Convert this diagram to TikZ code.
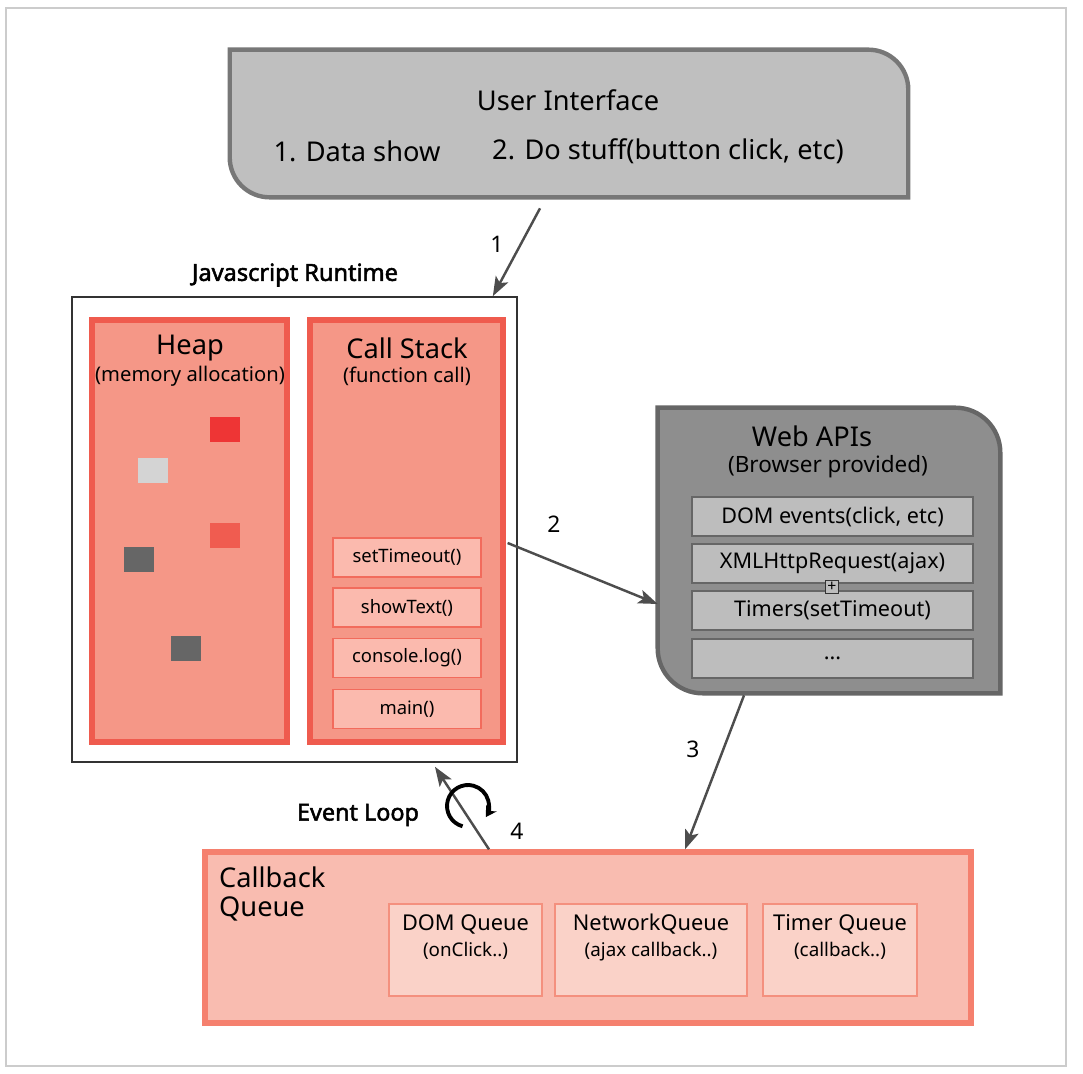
\documentclass[tikz,border=0pt]{standalone}
\usepackage{fontspec}
\setmainfont{Noto Sans}[AutoFakeBold=2.2]
\usepackage{tikz}
\usetikzlibrary{arrows.meta, positioning}
\definecolor{uifill}{HTML}{BFBFBF}
\definecolor{uiline}{HTML}{777777}
\definecolor{heapfill}{HTML}{F59787}
\definecolor{heapline}{HTML}{EF5B4E}
\definecolor{callfill}{HTML}{FBBAAE}
\definecolor{callline}{HTML}{F26B5C}
\definecolor{webfill}{HTML}{8E8E8E}
\definecolor{webline}{HTML}{666666}
\definecolor{apifill}{HTML}{BDBDBD}
\definecolor{queuefill}{HTML}{F9BCB0}
\definecolor{queueline}{HTML}{F5806E}
\definecolor{subqfill}{HTML}{FAD2C8}
\definecolor{subqline}{HTML}{F4907E}
\definecolor{memred}{HTML}{EE3535}
\definecolor{memcoral}{HTML}{F05C50}
\definecolor{memlight}{HTML}{D4D4D4}
\definecolor{memdark}{HTML}{666666}
\definecolor{flowgray}{HTML}{4D4D4D}

\tikzset{
  flow/.style={draw=flowgray, line width=1.4pt, -{Stealth[length=11pt, width=8pt, inset=2.5pt]}},
  areabox/.style={draw=heapline, fill=heapfill, line width=3pt, minimum width=3.9cm, minimum height=8.44cm},
  stackitem/.style={draw=callline, fill=callfill, line width=1pt, minimum width=2.96cm, minimum height=0.78cm, font=\fontsize{10.5}{12}\selectfont},
  apiitem/.style={draw=webline, fill=apifill, line width=1.2pt, minimum width=5.62cm, minimum height=0.78cm, font=\fontsize{12.3}{14}\selectfont},
  qbox/.style={draw=subqline, fill=subqfill, line width=1.2pt, minimum height=1.84cm},
  qtext/.style={align=center, inner sep=0pt, font=\fontsize{12.4}{14.8}\selectfont},
  memblock/.style={minimum width=0.6cm, minimum height=0.5cm, inner sep=0pt},
  bigtitle/.style={font=\fontsize{15.5}{18}\selectfont},
  subtitle/.style={font=\fontsize{11.5}{14}\selectfont},
  numlabel/.style={font=\fontsize{13}{15}\selectfont}
}

\begin{document}
\begin{tikzpicture}[x=0.02cm, y=-0.02cm]
\useasboundingbox (0,0) rectangle (1083,1074);
\draw[gray!40, line width=1.2pt] (6,8) rectangle (1066,1066);

% user interface
\node[minimum width=13.56cm, minimum height=2.94cm] (ui) at (569,123.5) {};
\draw[draw=uiline, fill=uifill, line width=2.5pt]
  (ui.north west) -- ([xshift=-0.8cm]ui.north east) to[out=0, in=90] ([yshift=-0.8cm]ui.north east)
  -- (ui.south east) -- ([xshift=0.8cm]ui.south west) to[out=180, in=-90] ([yshift=0.8cm]ui.south west) -- cycle;
\node[bigtitle] (uititle) at (568,100) {User Interface};
\node[bigtitle] (uidata) at (357,151) {1. Data show};
\node[bigtitle] (uistuff) at (668,151) {2. Do stuff(button click, etc)};

% javascript runtime
\node[draw=black!80, line width=1pt, fill=white, minimum width=8.9cm, minimum height=9.3cm] (rt) at (294.5,529.5) {};
\node[font=\fontsize{13.4}{16}\selectfont\bfseries] (rtlabel) at (295,275) {Javascript Runtime};

\node[areabox] (heap) at (189.5,531) {};
\node[bigtitle] (heaptitle) at (190,348) {Heap};
\node[subtitle] (heapsub) at (190,376) {(memory allocation)};
\node[memblock, fill=memred] (mem1) at (225,429.5) {};
\node[memblock, fill=memlight] (mem2) at (153,470.5) {};
\node[memblock, fill=memcoral] (mem3) at (225,535.5) {};
\node[memblock, fill=memdark] (mem4) at (139,559.5) {};
\node[memblock, fill=memdark] (mem5) at (186,648.5) {};

\node[areabox, minimum width=3.86cm] (cs) at (406.5,531) {};
\node[bigtitle] (cstitle) at (407,348) {Call Stack};
\node[subtitle] (cssub) at (407,376) {(function call)};
\node[stackitem] (settimeout) at (407,557.5) {setTimeout()};
\node[stackitem] (showtext) at (407,607.5) {showText()};
\node[stackitem] (consolelog) at (407,658) {console.log()};
\node[stackitem] (mainfn) at (407,709) {main()};

% web apis
\node[minimum width=6.84cm, minimum height=5.7cm] (web) at (829,550.5) {};
\draw[draw=webline, fill=webfill, line width=2.5pt]
  (web.north west) -- ([xshift=-0.9cm]web.north east) to[out=0, in=90] ([yshift=-0.9cm]web.north east)
  -- (web.south east) -- ([xshift=0.9cm]web.south west) to[out=180, in=-90] ([yshift=0.9cm]web.south west) -- cycle;
\node[bigtitle] (webtitle) at (812,436) {Web APIs};
\node[font=\fontsize{12.8}{15}\selectfont] (websub) at (828,467) {(Browser provided)};
\node[apiitem] (domevents) at (832.5,516.5) {DOM events(click, etc)};
\node[apiitem] (xhr) at (832.5,563.5) {XMLHttpRequest(ajax)};
\node[apiitem] (timers) at (832.5,610.5) {Timers(setTimeout)};
\node[apiitem] (moreapi) at (832.5,658.5) {...};
\node[draw=black!80, fill=apifill, line width=0.6pt, minimum size=0.26cm, inner sep=0pt, font=\fontsize{9}{9}\selectfont] (plus) at (832,587) {+};

% callback queue
\node[draw=queueline, fill=queuefill, line width=3pt, minimum width=15.32cm, minimum height=3.42cm] (cbq) at (588,937.5) {};
\node[bigtitle, anchor=west] (cbtitle) at (213,877) {Callback};
\node[bigtitle, anchor=west] (cbtitleb) at (213,909) {Queue};
\node[qbox, minimum width=3.06cm] (domq) at (465.5,950) {};
\node[qbox, minimum width=3.84cm] (netq) at (651,950) {};
\node[qbox, minimum width=3.08cm] (timerq) at (840,950) {};
\node[qtext, below=0.22cm of domq.north] (domqtext) {DOM Queue\\{\fontsize{10.7}{13}\selectfont (onClick..)}};
\node[qtext, below=0.22cm of netq.north] (netqtext) {NetworkQueue\\{\fontsize{10.7}{13}\selectfont (ajax callback..)}};
\node[qtext, below=0.22cm of timerq.north] (timerqtext) {Timer Queue\\{\fontsize{10.7}{13}\selectfont (callback..)}};

% flows
\draw[flow] ([xshift=-0.58cm, yshift=-0.22cm]ui.south) -- ([xshift=-0.5cm]rt.north east);
\node[numlabel] (lab1) at (497,244) {1};
\draw[flow] ([xshift=0.04cm, yshift=-0.24cm]cs.east) -- ([yshift=-1.07cm]web.west);
\node[numlabel] (lab2) at (554,524) {2};
\draw[flow] ([xshift=-1.7cm, yshift=-0.04cm]web.south) -- ([xshift=1.94cm]cbq.north);
\node[numlabel] (lab3) at (693,749) {3};
\draw[flow] ([xshift=-1.98cm]cbq.north) -- ([xshift=2.81cm, yshift=-0.08cm]rt.south);
\node[numlabel] (lab4) at (517,831) {4};
\node[font=\fontsize{13.3}{16}\selectfont\bfseries] (evloop) at (358,815) {Event Loop};
\coordinate (loopc) at (468,806);
\draw[line width=2.2pt, -{Stealth[length=6pt, width=7pt]}] ([shift={(-105:0.42cm)}]loopc) arc[start angle=-105, end angle=-392, radius=0.42cm];
\end{tikzpicture}
\end{document}
